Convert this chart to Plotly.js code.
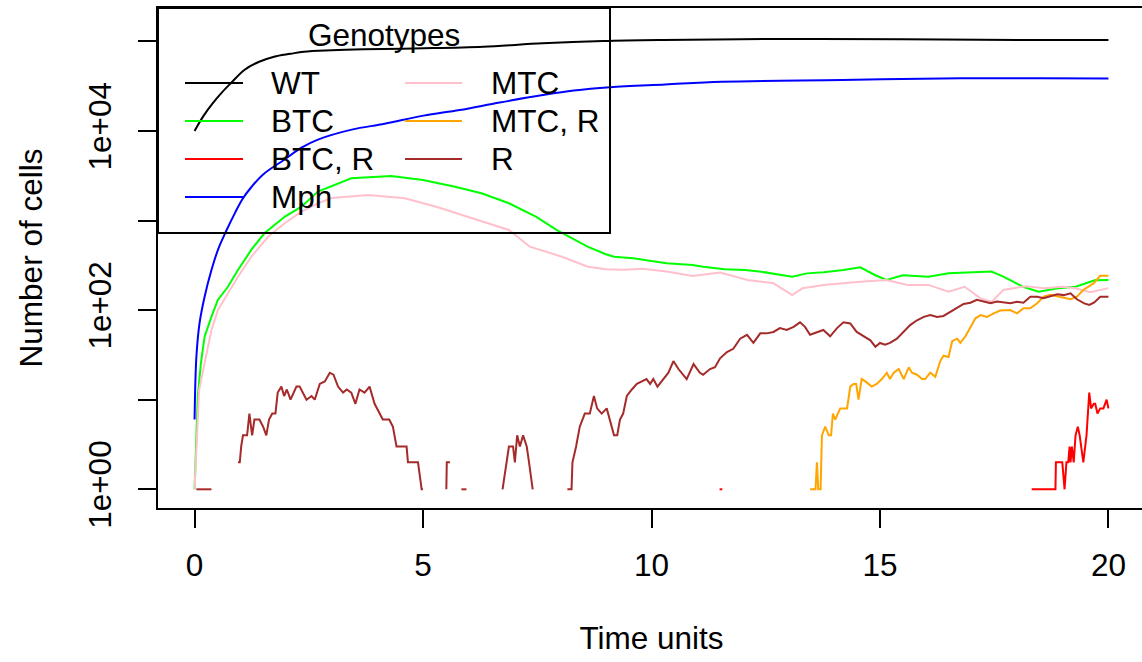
<!DOCTYPE html>
<html>
<head>
<meta charset="utf-8">
<script src="https://cdn.plot.ly/plotly-3.0.1.min.js"></script>
<style>
html,body{margin:0;padding:0;overflow:hidden;background:#fff;}
#chart{width:1147px;height:662px;}
</style>
</head>
<body>
<div id="chart"></div>
<script>
// ---- data: [time, number of cells]; null = no cells (gap on log axis) ----
const seriesNames = ["WT", "BTC", "BTC, R", "Mph", "MTC", "MTC, R", "R"];
const seriesColors = ["#000000", "#00FF00", "#FF0000", "#0000FF", "#FFC0CB", "#FFA500", "#A52A2A"];

const dataWT = [[0,10000],[0.2,14800],[0.4,20400],[0.6,26900],[0.8,34300],[1.09,47900],[1.4,58700],[1.74,67300],[2.1,72500],[2.39,76600],[3.0,79500],[3.70,81500],[5.02,83600],[6.32,87100],[7.62,95000],[8.94,100700],[10.25,103500],[12.86,106200],[15.47,105300],[18.09,103500],[20,103500]];

const dataBTC = [[0,1],[0.07,10.8],[0.14,25.7],[0.22,50.5],[0.37,84.4],[0.51,130],[0.73,182],[0.95,280],[1.24,469],[1.53,720],[1.97,1100],[2.34,1426],[2.70,2100],[3.43,2960],[4.30,3140],[5.0,2830],[5.7,2385],[6.28,2013],[6.88,1556],[7.47,1103],[7.93,783],[8.6,510],[9.0,420],[9.18,394],[9.6,378],[10.33,333],[10.9,319],[11.13,305],[11.6,285],[12.05,280],[12.4,268],[13.08,236],[13.4,257],[13.77,265],[14.2,280],[14.57,300],[14.9,245],[15.14,217],[15.5,245],[16.06,236],[16.5,257],[17.0,261],[17.44,269],[17.7,236],[18.13,182],[18.47,160],[18.9,175],[19.28,182],[19.7,215],[20,217]];

const dataBTCR = [[11.49,1],[11.55,1],[11.6,null],[18.32,1],[18.84,1],[18.85,2],[18.99,2],[19.04,1],[19.08,2],[19.12,2],[19.15,3],[19.17,2],[19.20,3],[19.24,2],[19.28,4],[19.33,5],[19.37,4],[19.45,2],[19.52,4],[19.58,12],[19.62,8],[19.68,9],[19.71,9],[19.76,7],[19.82,8],[19.89,8],[19.96,10],[20,8]];

const dataMph = [[0,6],[0.04,30],[0.11,72],[0.22,141],[0.37,280],[0.51,468],[0.69,759],[0.88,1202],[1.05,1738],[1.24,2350],[1.5,3270],[1.97,4800],[2.34,6500],[2.70,8000],[3.44,10330],[4.16,12000],[5.01,14800],[5.80,17100],[6.68,20750],[7.62,25100],[8.3,28200],[9.09,30700],[10.3,33000],[11.54,35400],[14.17,37000],[16.78,38650],[18.5,38650],[20,38450]];

const dataMTC = [[0,1],[0.1,12.8],[0.22,25.7],[0.37,60],[0.51,100],[0.73,154],[0.95,236],[1.24,394],[1.61,659],[1.97,931],[2.34,1254],[2.70,1556],[3.0,1783],[3.8,1927],[4.6,1770],[5.29,1426],[5.97,1103],[6.88,783],[7.34,510],[8.04,394],[8.61,305],[9.0,285],[9.41,282],[9.8,290],[10.33,270],[10.9,240],[11.5,262],[12.1,217],[12.67,199],[13.08,147],[13.3,175],[13.77,191],[14.5,206],[15.14,217],[15.6,191],[16.06,191],[16.5,160],[16.85,182],[17.2,135],[17.45,124],[17.7,168],[18.2,185],[18.59,175],[19.0,182],[19.28,175],[19.6,158],[20,176]];

const dataMTCR = [[13.47,1],[13.59,1],[13.62,2],[13.65,1],[13.70,1],[13.73,4],[13.80,5],[13.88,4],[13.93,4],[13.97,7],[14.02,6],[14.07,7],[14.13,8],[14.28,8],[14.35,14],[14.42,15],[14.48,15],[14.53,10],[14.60,17],[14.68,16],[14.75,15],[14.82,14],[14.93,15],[15.04,17],[15.15,20],[15.22,17],[15.30,20],[15.41,22],[15.52,17],[15.63,23],[15.70,20],[15.81,19],[15.92,17],[15.99,17],[16.10,20],[16.21,18],[16.32,27],[16.39,31],[16.50,30],[16.58,45],[16.69,48],[16.76,43],[16.87,51],[16.98,65],[17.09,81],[17.20,88],[17.34,84],[17.49,92],[17.63,99],[17.85,100],[18.0,92],[18.14,105],[18.29,105],[18.44,119],[18.58,141],[18.73,148],[18.95,141],[19.17,132],[19.31,141],[19.45,168],[19.68,200],[19.82,241],[20,241]];

const dataR = [[0.04,1],[0.37,1],[0.40,null],
[0.95,2],[0.99,2],[1.02,3],[1.06,4],[1.15,4],[1.20,7],[1.26,4],[1.31,6],[1.42,6],[1.50,5],[1.57,4],[1.63,6],[1.70,7],[1.77,7],[1.82,12],[1.90,14],[1.96,11],[2.02,13],[2.10,10],[2.23,14],[2.30,14],[2.45,10],[2.56,11],[2.63,10],[2.74,15],[2.85,16],[2.96,20],[3.04,19],[3.14,14],[3.25,12],[3.33,13],[3.43,12],[3.52,9],[3.61,13],[3.72,12],[3.83,14],[3.94,9],[4.05,7],[4.12,6],[4.26,6],[4.34,5],[4.42,3],[4.64,3],[4.67,2],[4.89,2],[4.97,1],[5.00,1],[5.10,null],
[5.51,1],[5.52,2],[5.59,2],[5.70,null],
[5.84,1],[5.95,1],[6.10,null],
[6.74,1],[6.83,2],[6.88,3],[6.97,3],[7.01,2],[7.06,4],[7.12,3],[7.19,4],[7.27,3],[7.32,2],[7.40,1],[7.50,null],
[8.16,1],[8.25,1],[8.27,2],[8.35,3],[8.43,5],[8.54,7],[8.65,7],[8.74,11],[8.81,8],[8.91,7],[9.02,8],[9.09,6],[9.18,4],[9.25,4],[9.31,6],[9.38,7],[9.46,11],[9.57,13],[9.68,15],[9.79,16],[9.89,17],[9.97,15],[10.04,17],[10.13,14],[10.26,17],[10.37,20],[10.48,27],[10.59,22],[10.77,17],[10.92,25],[11.06,20],[11.13,19],[11.28,22],[11.39,23],[11.50,29],[11.65,34],[11.79,37],[11.94,48],[12.09,53],[12.23,43],[12.38,55],[12.52,55],[12.67,57],[12.81,63],[12.96,60],[13.11,65],[13.25,73],[13.36,65],[13.47,53],[13.62,57],[13.76,60],[13.91,51],[14.06,63],[14.20,73],[14.35,71],[14.49,57],[14.64,51],[14.79,46],[14.90,39],[15.00,43],[15.11,41],[15.22,43],[15.37,48],[15.52,57],[15.66,68],[15.81,77],[15.96,84],[16.10,88],[16.25,84],[16.39,86],[16.54,96],[16.69,105],[16.83,117],[16.98,121],[17.12,130],[17.27,125],[17.42,119],[17.56,125],[17.71,122],[17.85,119],[18.00,124],[18.14,121],[18.29,141],[18.44,141],[18.58,136],[18.73,143],[18.88,150],[19.02,147],[19.17,154],[19.31,132],[19.47,119],[19.58,114],[19.69,122],[19.82,141],[19.97,139],[20,141]];

const xTickVals = [0, 5, 10, 15, 20];
const yTickVals = [1, 10, 100, 1000, 10000, 100000];
const yTickText = ["1e+00", "", "1e+02", "", "1e+04", ""];
const legendTitle = "Genotypes";
const xTitle = "Time units";
const yTitle = "Number of cells";

// ---- build traces ----
const allData = [dataWT, dataBTC, dataBTCR, dataMph, dataMTC, dataMTCR, dataR];
const smoothSeries = ["WT", "Mph"];
const traces = allData.map((d, i) => ({
  type: "scatter",
  mode: "lines",
  x: d.map(p => p[0]),
  y: d.map(p => p[1]),
  name: seriesNames[i],
  line: smoothSeries.includes(seriesNames[i])
    ? {color: seriesColors[i], width: 2, shape: "spline", smoothing: 1}
    : {color: seriesColors[i], width: 2},
  connectgaps: false,
  showlegend: false,
  hoverinfo: "x+y+name"
}));

// ---- layout ----
const W = 1147, H = 662;
const M = {l: 158, r: 2, t: 8, b: 154};
const plotW = W - M.l - M.r, plotH = H - M.t - M.b;
const FONT = "Liberation Sans, Arial, Helvetica, sans-serif";
const FS = 31.5;
const px2x = p => (p - M.l) / plotW;
const py2y = p => (M.t + plotH - p) / plotH;

// legend (R-style, two columns, transparent background)
const shapes = [{
  type: "rect", xref: "paper", yref: "paper",
  x0: px2x(158), x1: px2x(610), y0: py2y(233), y1: py2y(8),
  line: {color: "#000", width: 2}, fillcolor: "rgba(0,0,0,0)"
}];
const annotations = [{
  xref: "paper", yref: "paper", x: px2x(384), y: py2y(35),
  text: legendTitle, showarrow: false, xanchor: "center", yanchor: "middle",
  font: {family: FONT, size: FS, color: "#000"}
}];
const colLineX = [[185, 243], [405, 462]];
const colTextX = [269, 489];
const rowY = [83, 121, 159, 197];
seriesNames.forEach((nm, i) => {
  const c = i < 4 ? 0 : 1, r = i < 4 ? i : i - 4;
  shapes.push({
    type: "line", xref: "paper", yref: "paper",
    x0: px2x(colLineX[c][0]), x1: px2x(colLineX[c][1]),
    y0: py2y(rowY[r]), y1: py2y(rowY[r]),
    line: {color: seriesColors[i], width: 2}
  });
  annotations.push({
    xref: "paper", yref: "paper", x: px2x(colTextX[c]), y: py2y(rowY[r]),
    text: nm, showarrow: false, xanchor: "left", yanchor: "middle",
    font: {family: FONT, size: FS, color: "#000"}
  });
});

const layout = {
  width: W, height: H,
  margin: {l: M.l, r: M.r, t: M.t, b: M.b, pad: 0},
  paper_bgcolor: "#fff", plot_bgcolor: "#fff",
  font: {family: FONT, size: FS, color: "#000"},
  showlegend: false,
  xaxis: {
    range: [-0.8, 20.8], tickmode: "array", tickvals: xTickVals,
    ticks: "outside", ticklen: 18, tickwidth: 2, tickcolor: "#000",
    showline: true, linewidth: 2, linecolor: "#000", mirror: true,
    showgrid: false, zeroline: false,
    ticklabelstandoff: 10,
    tickfont: {family: FONT, size: FS, color: "#000"},
    title: {text: xTitle, standoff: 45, font: {family: FONT, size: FS, color: "#000"}}
  },
  yaxis: {
    type: "log", range: [-0.2087, 5.3716], tickmode: "array",
    tickvals: yTickVals, ticktext: yTickText, tickangle: -90,
    ticks: "outside", ticklen: 18, tickwidth: 2, tickcolor: "#000",
    showline: true, linewidth: 2, linecolor: "#000", mirror: true,
    showgrid: false, zeroline: false,
    ticklabelstandoff: 14,
    tickfont: {family: FONT, size: FS, color: "#000"},
    title: {text: yTitle, standoff: 30, font: {family: FONT, size: FS, color: "#000"}}
  },
  shapes: shapes,
  annotations: annotations
};

Plotly.newPlot("chart", traces, layout, {displayModeBar: false, staticPlot: true});
</script>
</body>
</html>
